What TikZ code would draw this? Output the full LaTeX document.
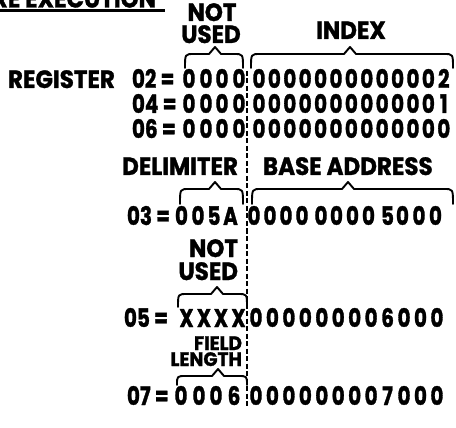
\documentclass[tikz,border=0pt]{standalone}
\usepackage{fontspec}
\newfontfamily\lfw{Poppins}[FakeStretch=0.92, BoldFeatures={FakeBold=1.2}]
\newfontfamily\lfs{Poppins}[FakeStretch=0.95, BoldFeatures={FakeBold=1.1}]
\newfontfamily\lfd{Poppins}[FakeStretch=0.78, BoldFeatures={FakeBold=1.2}]
\newcommand\wfont{\lfw\bfseries\fontsize{25}{25}\selectfont}
\newcommand\sfnt{\lfs\bfseries\fontsize{19.5}{19.5}\selectfont}
\newcommand\dfont{\lfd\bfseries\fontsize{25.5}{25.5}\selectfont}
\newcommand\topbrace[5]{%
  \draw[brace] (#1,#5) .. controls (#1,#4) .. (#1+9,#4) -- (#3-6,#4) -- (#3,#4-7) -- (#3+6,#4) -- (#2-9,#4) .. controls (#2,#4) .. (#2,#5);}
\begin{document}
\begin{tikzpicture}[x=1pt,y=-1pt,
  lbl/.style={font=\wfont, inner sep=0pt, outer sep=0pt, text height=17pt, text depth=0pt},
  small/.style={font=\sfnt, inner sep=0pt, outer sep=0pt, text height=13.5pt, text depth=0pt},
  dig/.style={font=\dfont, inner sep=0pt, outer sep=0pt, text height=17pt, text depth=0pt, anchor=base},
  brace/.style={line width=1.9pt, line join=round, line cap=round},
  sepline/.style={line width=1.6pt, dash pattern=on 5pt off 2.5pt}]
\useasboundingbox (0,0) rectangle (456,428);
\clip (0,0) rectangle (456,428);
\fill[white] (0,0) rectangle (456,428);

% title (cut off at top)
\node[lbl, anchor=base east] (title) at (156,7.5) {RE EXECUTION};
\draw[line width=2.2pt] (0,10.5) -- (165,10.5);

% headers
\node[lbl, anchor=base] (nu1a) at (212,21) {NOT};
\node[lbl, anchor=base] (nu1b) at (211,43) {USED};
\node[lbl, anchor=base] (idx) at (351,39) {INDEX};
\topbrace{185}{243}{215}{54}{68}
\topbrace{251}{453}{350}{54}{68}

% register label
\node[lbl, anchor=base west] (reg) at (8,88) {REGISTER};

% rows 02, 04, 06
\foreach \r/\y/\last [count=\k] in {02/88/2, 04/113/1, 06/138/0} {
  \node[dig, anchor=base west] (p\r) at (132,\y) {\r\,=};
  \foreach \x [count=\i] in {189,206,222,239}
    \node[dig] (l\r-\i) at (\x,\y) {0};
  \foreach \i in {0,...,11}
    \node[dig] (d\r-\i) at (259+\i*15.4,\y) {0};
  \node[dig] (d\r-12) at (259+12*15.4,\y) {\last};
}

% delimiter / base address
\node[lbl, anchor=base east] (delim) at (238,175) {DELIMITER};
\node[lbl, anchor=base west] (base) at (263,175) {BASE ADDRESS};
\topbrace{180}{243}{215}{189}{204}
\topbrace{252}{453}{348}{189}{204}

% row 03
\node[dig, anchor=base west] (p03) at (127,225) {03\,=};
\foreach \x/\c [count=\i] in {181.5/0,198/0,214/5,230.5/A}
  \node[dig] (l03-\i) at (\x,225) {\c};
\foreach \x/\c [count=\i] in {254/0,270/0,286/0,302/0,321/0,336.5/0,352.5/0,368.5/0,387.5/5,402.5/0,419/0,435.5/0}
  \node[dig] (d03-\i) at (\x,225) {\c};

% not used (05)
\node[lbl, anchor=base east] (nu2a) at (238,257) {NOT};
\node[lbl, anchor=base east] (nu2b) at (238,280) {USED};
\topbrace{178}{247}{217}{294}{307}

% row 05
\node[dig, anchor=base west] (p05) at (124,327) {05\,=};
\foreach \x [count=\i] in {186.5,204,221,238.5}
  \node[dig] (l05-\i) at (\x,327) {X};
\foreach \c [count=\i from 0] in {0,0,0,0,0,0,0,0,6,0,0,0}
  \node[dig] (d05-\i) at (256+\i*16.45,327) {\c};

% field length
\node[small, anchor=base east] (fl1) at (242,350) {FIELD};
\node[small, anchor=base east] (fl2) at (242,366) {LENGTH};
\topbrace{177}{247}{218}{376}{385}

% row 07
\node[dig, anchor=base west] (p07) at (127,405) {07\,=};
\foreach \x/\c [count=\i] in {181/0,199/0,216/0,234/6}
  \node[dig] (l07-\i) at (\x,405) {\c};
\foreach \c [count=\i from 0] in {0,0,0,0,0,0,0,0,7,0,0,0}
  \node[dig] (d07-\i) at (256+\i*16.45,405) {\c};

% separator
\coordinate (sepT) at (247,71);
\coordinate (sepB) at (247,406);
\draw[sepline] (sepT) -- (sepB);
\end{tikzpicture}
\end{document}
